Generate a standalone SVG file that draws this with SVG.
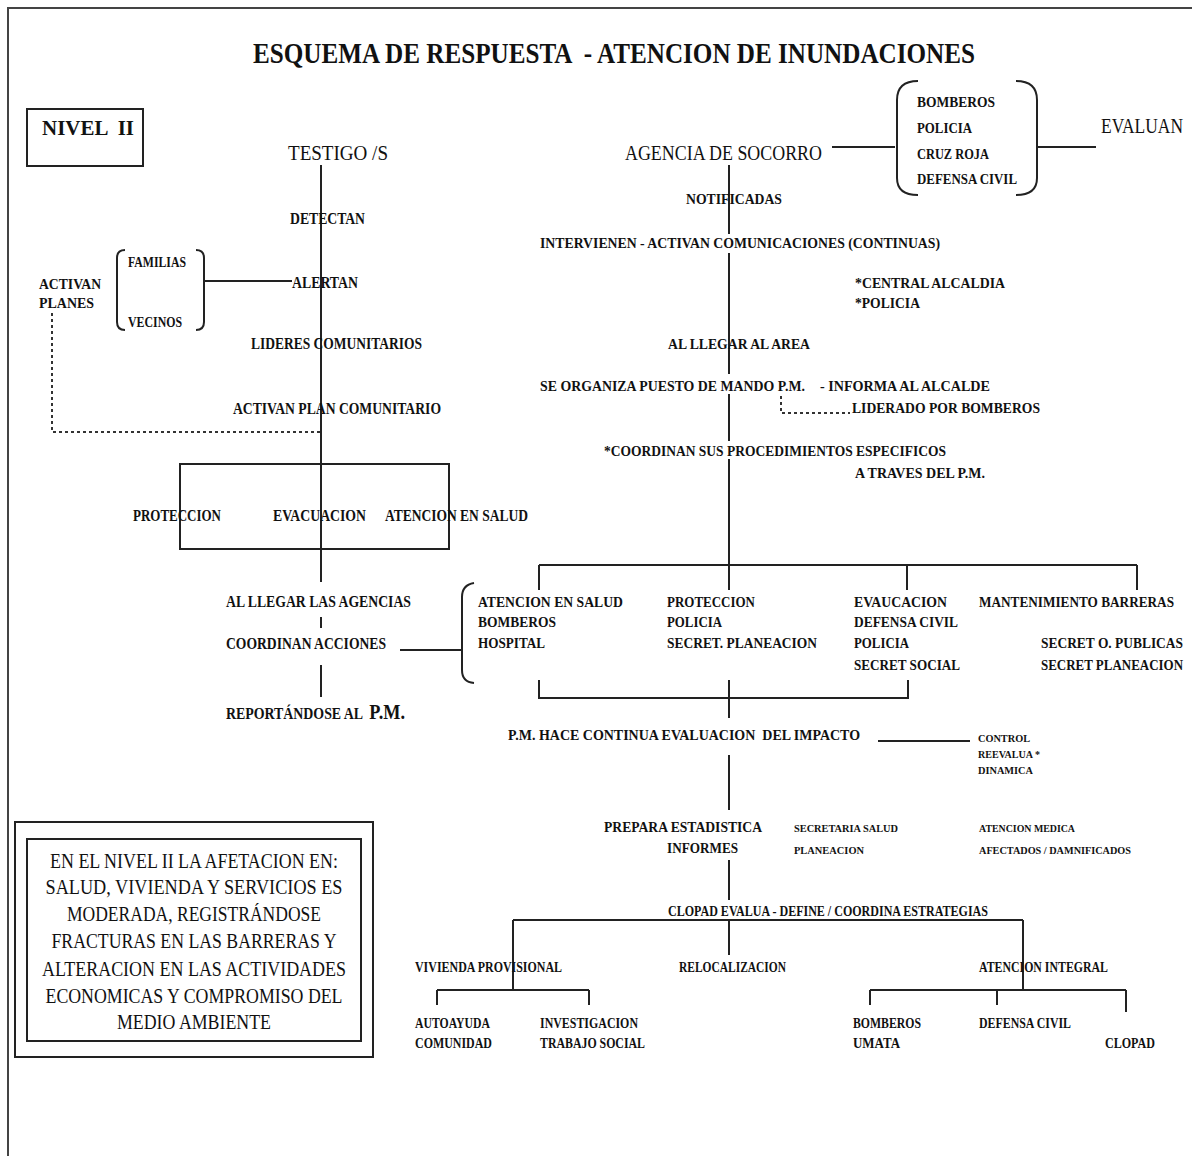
<svg xmlns="http://www.w3.org/2000/svg" width="1192" height="1156" viewBox="0 0 1192 1156">
<style>
text{font-family:"Liberation Serif","Times New Roman",serif;fill:#111;white-space:pre}
.b{font-weight:bold;font-size:16px}
.m{font-size:22px}
.s{font-weight:bold;font-size:11px}
.h{font-weight:bold;font-size:15px}
.box{font-size:22px}
.ln{stroke:#222;stroke-width:2;fill:none}
.dt{stroke:#333;stroke-width:2;fill:none;stroke-dasharray:3 3}
</style>
<rect width="1192" height="1156" fill="#fff"/>
<path d="M8 1156 V8 H1192" stroke="#444" stroke-width="2" fill="none"/>
<g id="title"><text x="253" y="63" style="font-weight:bold;font-size:30px" textLength="722" lengthAdjust="spacingAndGlyphs">ESQUEMA DE RESPUESTA  - ATENCION DE INUNDACIONES</text></g>
<g id="nivel"><rect x="27" y="109" width="116" height="57" class="ln" stroke-width="3"/><text x="42" y="135" style="font-weight:bold;font-size:22px" textLength="92" lengthAdjust="spacingAndGlyphs">NIVEL  II</text></g>

<g id="connectors">
<path class="ln" d="M321 165 V464"/>
<path class="ln" d="M125 250 Q117 250 117 258 V322 Q117 330 125 330"/>
<path class="ln" d="M196 250 Q204 250 204 258 V322 Q204 330 196 330"/>
<path class="ln" d="M204 281 H292"/>
<path class="dt" d="M52 313 V432 H321"/>
<rect class="ln" x="180" y="464" width="269" height="85"/>
<path class="ln" d="M321 464 V582 M321 617 V628 M321 665 V697"/>
<path class="ln" d="M400 650 H462"/>
<path class="ln" d="M474 583 Q462 585 462 597 V670 Q462 682 474 683"/>
<path class="ln" d="M832 147 H895 M1038 147 H1096"/>
<path class="ln" d="M918 81 Q897 81 897 100 V178 Q897 195 918 195"/>
<path class="ln" d="M1016 81 Q1037 81 1037 100 V178 Q1037 195 1016 195"/>
<path class="ln" d="M729 165 V234 M729 253 V374 M729 394 V441 M729 459 V565"/>
<path class="dt" d="M781 396 V413 H850"/>
<path class="ln" d="M539 565 H1137 M539 565 V590 M729 565 V590 M907 565 V590 M1137 565 V590"/>
<path class="ln" d="M539 680 V698 H908 V680 M729 680 V718"/>
<path class="ln" d="M878 741 H970"/>
<path class="ln" d="M729 755 V810 M729 860 V900"/>
<path class="ln" d="M513 920 H1023 M513 920 V990 M729 920 V955 M1023 920 V990"/>
<path class="ln" d="M437 990 H589 M437 990 V1005 M589 990 V1005"/>
<path class="ln" d="M870 990 H1126 M870 990 V1005 M997 990 V1005 M1126 990 V1012"/>
</g>

<g id="testigo"><text class="m" x="288" y="160" textLength="100" lengthAdjust="spacingAndGlyphs">TESTIGO /S</text></g>
<g id="detectan"><text class="b" x="290" y="224" textLength="75" lengthAdjust="spacingAndGlyphs">DETECTAN</text></g>
<g id="alertan"><text class="b" x="292" y="288" textLength="66" lengthAdjust="spacingAndGlyphs">ALERTAN</text></g>
<g id="familias"><text class="h" x="128" y="267" textLength="58" lengthAdjust="spacingAndGlyphs">FAMILIAS</text><text class="h" x="128" y="327" textLength="54" lengthAdjust="spacingAndGlyphs">VECINOS</text></g>
<g id="activan-planes"><text class="h" x="39" y="289" textLength="62" lengthAdjust="spacingAndGlyphs">ACTIVAN</text><text class="h" x="39" y="308" textLength="55" lengthAdjust="spacingAndGlyphs">PLANES</text></g>
<g id="lideres"><text class="b" x="251" y="349" textLength="171" lengthAdjust="spacingAndGlyphs">LIDERES COMUNITARIOS</text></g>
<g id="plan-com"><text class="b" x="233" y="414" textLength="208" lengthAdjust="spacingAndGlyphs">ACTIVAN PLAN COMUNITARIO</text></g>
<g id="acciones-l"><text class="b" x="133" y="521" textLength="88" lengthAdjust="spacingAndGlyphs">PROTECCION</text><text class="b" x="273" y="521" textLength="93" lengthAdjust="spacingAndGlyphs">EVACUACION</text><text class="b" x="385" y="521" textLength="143" lengthAdjust="spacingAndGlyphs">ATENCION EN SALUD</text></g>
<g id="llegar-agencias"><text class="b" x="226" y="607" textLength="185" lengthAdjust="spacingAndGlyphs">AL LLEGAR LAS AGENCIAS</text></g>
<g id="coordinan-acc"><text class="b" x="226" y="649" textLength="160" lengthAdjust="spacingAndGlyphs">COORDINAN ACCIONES</text></g>
<g id="reportandose"><text class="b" x="226" y="719" textLength="179" lengthAdjust="spacingAndGlyphs">REPORTÁNDOSE AL  <tspan style="font-size:21px">P.M.</tspan></text></g>

<g id="agencia"><text class="m" x="625" y="160" textLength="197" lengthAdjust="spacingAndGlyphs">AGENCIA DE SOCORRO</text></g>
<g id="entidades"><text class="h" x="917" y="107" textLength="78" lengthAdjust="spacingAndGlyphs">BOMBEROS</text><text class="h" x="917" y="133" textLength="55" lengthAdjust="spacingAndGlyphs">POLICIA</text><text class="h" x="917" y="159" textLength="72" lengthAdjust="spacingAndGlyphs">CRUZ ROJA</text><text class="h" x="917" y="184" textLength="100" lengthAdjust="spacingAndGlyphs">DEFENSA CIVIL</text></g>
<g id="evaluan"><text class="m" x="1101" y="133" textLength="82" lengthAdjust="spacingAndGlyphs">EVALUAN</text></g>
<g id="notificadas"><text class="h" x="686" y="204" textLength="96" lengthAdjust="spacingAndGlyphs">NOTIFICADAS</text></g>
<g id="intervienen"><text class="h" x="540" y="248" textLength="400" lengthAdjust="spacingAndGlyphs">INTERVIENEN - ACTIVAN COMUNICACIONES (CONTINUAS)</text></g>
<g id="central"><text class="h" x="855" y="288" textLength="150" lengthAdjust="spacingAndGlyphs">*CENTRAL ALCALDIA</text><text class="h" x="855" y="308" textLength="65" lengthAdjust="spacingAndGlyphs">*POLICIA</text></g>
<g id="llegar-area"><text class="h" x="668" y="349" textLength="142" lengthAdjust="spacingAndGlyphs">AL LLEGAR AL AREA</text></g>
<g id="organiza"><text class="h" x="540" y="391" textLength="265" lengthAdjust="spacingAndGlyphs">SE ORGANIZA PUESTO DE MANDO P.M.</text></g>
<g id="informa"><text class="h" x="820" y="391" textLength="170" lengthAdjust="spacingAndGlyphs">- INFORMA AL ALCALDE</text><text class="h" x="852" y="413" textLength="188" lengthAdjust="spacingAndGlyphs">LIDERADO POR BOMBEROS</text></g>
<g id="coordinan-proc"><text class="h" x="604" y="456" textLength="342" lengthAdjust="spacingAndGlyphs">*COORDINAN SUS PROCEDIMIENTOS ESPECIFICOS</text><text class="h" x="855" y="478" textLength="130" lengthAdjust="spacingAndGlyphs">A TRAVES DEL P.M.</text></g>
<g id="col-salud"><text class="h" x="478" y="607" textLength="145" lengthAdjust="spacingAndGlyphs">ATENCION EN SALUD</text><text class="h" x="478" y="627" textLength="78" lengthAdjust="spacingAndGlyphs">BOMBEROS</text><text class="h" x="478" y="648" textLength="67" lengthAdjust="spacingAndGlyphs">HOSPITAL</text></g>
<g id="col-proteccion"><text class="h" x="667" y="607" textLength="88" lengthAdjust="spacingAndGlyphs">PROTECCION</text><text class="h" x="667" y="627" textLength="55" lengthAdjust="spacingAndGlyphs">POLICIA</text><text class="h" x="667" y="648" textLength="150" lengthAdjust="spacingAndGlyphs">SECRET. PLANEACION</text></g>
<g id="col-evacuacion"><text class="h" x="854" y="607" textLength="93" lengthAdjust="spacingAndGlyphs">EVAUCACION</text><text class="h" x="854" y="627" textLength="104" lengthAdjust="spacingAndGlyphs">DEFENSA CIVIL</text><text class="h" x="854" y="648" textLength="55" lengthAdjust="spacingAndGlyphs">POLICIA</text><text class="h" x="854" y="670" textLength="106" lengthAdjust="spacingAndGlyphs">SECRET SOCIAL</text></g>
<g id="col-barreras"><text class="h" x="979" y="607" textLength="195" lengthAdjust="spacingAndGlyphs">MANTENIMIENTO BARRERAS</text><text class="h" x="1041" y="648" textLength="142" lengthAdjust="spacingAndGlyphs">SECRET O. PUBLICAS</text><text class="h" x="1041" y="670" textLength="142" lengthAdjust="spacingAndGlyphs">SECRET PLANEACION</text></g>
<g id="pm-evalua"><text class="h" x="508" y="740" textLength="352" lengthAdjust="spacingAndGlyphs">P.M. HACE CONTINUA EVALUACION  DEL IMPACTO</text></g>
<g id="control"><text class="s" x="978" y="742" textLength="52" lengthAdjust="spacingAndGlyphs">CONTROL</text><text class="s" x="978" y="758" textLength="62" lengthAdjust="spacingAndGlyphs">REEVALUA *</text><text class="s" x="978" y="774" textLength="55" lengthAdjust="spacingAndGlyphs">DINAMICA</text></g>
<g id="prepara"><text class="h" x="604" y="832" textLength="158" lengthAdjust="spacingAndGlyphs">PREPARA ESTADISTICA</text><text class="h" x="667" y="853" textLength="71" lengthAdjust="spacingAndGlyphs">INFORMES</text></g>
<g id="secretaria"><text class="s" x="794" y="832" textLength="104" lengthAdjust="spacingAndGlyphs">SECRETARIA SALUD</text><text class="s" x="794" y="854" textLength="70" lengthAdjust="spacingAndGlyphs">PLANEACION</text></g>
<g id="atencion-medica"><text class="s" x="979" y="832" textLength="96" lengthAdjust="spacingAndGlyphs">ATENCION MEDICA</text><text class="s" x="979" y="854" textLength="152" lengthAdjust="spacingAndGlyphs">AFECTADOS / DAMNIFICADOS</text></g>
<g id="clopad-evalua"><text class="h" x="668" y="916" textLength="320" lengthAdjust="spacingAndGlyphs">CLOPAD EVALUA - DEFINE / COORDINA ESTRATEGIAS</text></g>
<g id="vivienda"><text class="h" x="415" y="972" textLength="147" lengthAdjust="spacingAndGlyphs">VIVIENDA PROVISIONAL</text></g>
<g id="relocalizacion"><text class="h" x="679" y="972" textLength="107" lengthAdjust="spacingAndGlyphs">RELOCALIZACION</text></g>
<g id="atencion-integral"><text class="h" x="979" y="972" textLength="129" lengthAdjust="spacingAndGlyphs">ATENCION INTEGRAL</text></g>
<g id="autoayuda"><text class="h" x="415" y="1028" textLength="75" lengthAdjust="spacingAndGlyphs">AUTOAYUDA</text><text class="h" x="415" y="1048" textLength="77" lengthAdjust="spacingAndGlyphs">COMUNIDAD</text></g>
<g id="investigacion"><text class="h" x="540" y="1028" textLength="98" lengthAdjust="spacingAndGlyphs">INVESTIGACION</text><text class="h" x="540" y="1048" textLength="105" lengthAdjust="spacingAndGlyphs">TRABAJO SOCIAL</text></g>
<g id="bomberos-umata"><text class="h" x="853" y="1028" textLength="68" lengthAdjust="spacingAndGlyphs">BOMBEROS</text><text class="h" x="853" y="1048" textLength="47" lengthAdjust="spacingAndGlyphs">UMATA</text></g>
<g id="defensa-civil"><text class="h" x="979" y="1028" textLength="92" lengthAdjust="spacingAndGlyphs">DEFENSA CIVIL</text></g>
<g id="clopad"><text class="h" x="1105" y="1048" textLength="50" lengthAdjust="spacingAndGlyphs">CLOPAD</text></g>

<g id="nota">
<rect x="15" y="822" width="358" height="235" class="ln" stroke-width="3"/>
<rect x="27" y="839" width="334" height="202" class="ln"/>
<g class="box" text-anchor="middle">
<text x="194" y="868" textLength="288" lengthAdjust="spacingAndGlyphs">EN EL NIVEL II LA AFETACION EN:</text>
<text x="194" y="894" textLength="297" lengthAdjust="spacingAndGlyphs">SALUD, VIVIENDA Y SERVICIOS ES</text>
<text x="194" y="921" textLength="254" lengthAdjust="spacingAndGlyphs">MODERADA, REGISTRÁNDOSE</text>
<text x="194" y="948" textLength="285" lengthAdjust="spacingAndGlyphs">FRACTURAS EN LAS BARRERAS Y</text>
<text x="194" y="976" textLength="304" lengthAdjust="spacingAndGlyphs">ALTERACION EN LAS ACTIVIDADES</text>
<text x="194" y="1003" textLength="297" lengthAdjust="spacingAndGlyphs">ECONOMICAS Y COMPROMISO DEL</text>
<text x="194" y="1029" textLength="154" lengthAdjust="spacingAndGlyphs">MEDIO AMBIENTE</text>
</g>
</g>
</svg>
